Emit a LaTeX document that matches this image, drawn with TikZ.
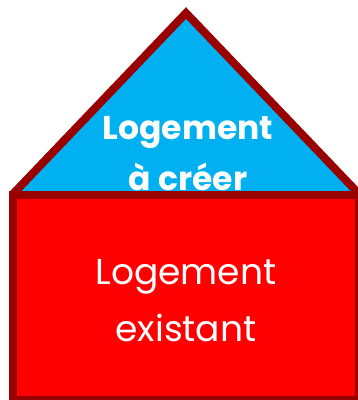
\documentclass[tikz,border=0pt]{standalone}
\usepackage{fontspec}
\setmainfont{Poppins}
\definecolor{roofblue}{HTML}{00B0F0}
\definecolor{wallred}{HTML}{FF0000}
\definecolor{edgered}{HTML}{990000}

\begin{document}
\begin{tikzpicture}[x=1pt,y=-1pt,line width=8pt,
    roof/.style={fill=roofblue,draw=edgered},
    wall/.style={fill=wallred,draw=edgered},
    newtext/.style={anchor=base,inner sep=0pt,text=white,font=\fontsize{33}{40}\selectfont\bfseries},
    oldtext/.style={anchor=base,inner sep=0pt,text=white,font=\fontsize{36}{44}\selectfont}]
        \clip (0,0) rectangle (358,400);
        \coordinate (eaveL) at (12,195);
        \coordinate (top) at (186,13);
        \coordinate (eaveR) at (360,195);
        \filldraw[roof] (eaveL) -- (top) -- (eaveR);

        \node[newtext] (new1) at (188,139) {Logement};
        \node[newtext] (new2) at (188,190) {à créer};

        \filldraw[wall] (13,195) rectangle (359,400);

        \node[oldtext] (old1) at (186,284) {Logement};
        \node[oldtext] (old2) at (186,341) {existant};
\end{tikzpicture}
\end{document}
